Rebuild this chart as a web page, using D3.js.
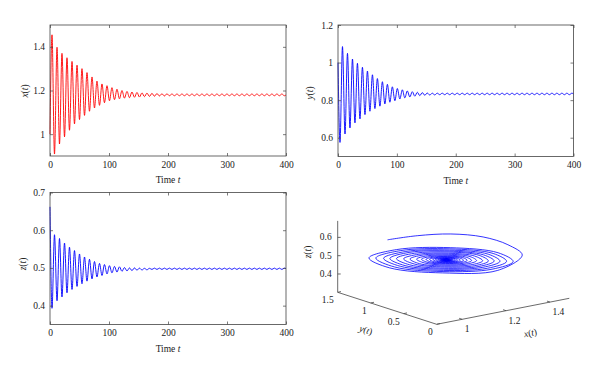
<!DOCTYPE html>
<html lang="en">
<head>
  <meta charset="UTF-8">
  <title>Damped oscillations and phase portrait</title>
  <script src="https://d3js.org/d3.v7.min.js"></script>
  <style>
    body { margin: 0; background: #fff; }
    svg text { font-family: 'Liberation Serif', 'Times New Roman', serif; font-size: 9.5px; fill: #222; }
  </style>
</head>
<body>
  <svg id="chart" width="600" height="373"></svg>

  <script>
    // ---- data ----
    const timeTicks = [0, 100, 200, 300, 400];

    // times of the successive extrema (shared by the three series)
    const tExt = [0,
      3.4, 7.6, 11.9, 16.1, 20.3, 24.6, 28.8, 33.0, 37.3, 41.5,
      45.8, 50.0, 54.2, 58.5, 62.7, 66.9, 71.2, 75.4, 79.6, 83.9,
      88.1, 92.3, 96.6, 100.8, 105.0, 109.3, 113.5, 117.7, 122.0, 126.2,
      130.5, 134.7, 138.9, 143.2, 147.4, 151.6, 155.9, 160.1, 164.3, 168.6,
      172.8, 177.0, 181.3, 185.5, 189.7, 194.0, 198.2, 202.4, 206.7, 210.9,
      215.2, 219.4, 223.6, 227.9, 232.1, 236.3, 240.6, 244.8, 249.0, 253.3,
      257.5, 261.7, 266.0, 270.2, 274.4, 278.7, 282.9, 287.1, 291.4, 295.6,
      299.9, 304.1, 308.3, 312.6, 316.8, 321.0, 325.3, 329.5, 333.7, 338.0,
      342.2, 346.4, 350.7, 354.9, 359.1, 363.4, 367.6, 371.8, 376.1, 380.3,
      384.6, 388.8, 393.0, 397.3,
      400];

    const xExt = [1.0,
      1.455, 0.909, 1.398, 0.955, 1.37, 0.988, 1.35, 1.018, 1.333, 1.047,
      1.316, 1.067, 1.30, 1.086, 1.282, 1.105, 1.262, 1.12, 1.243, 1.132,
      1.23, 1.144, 1.222, 1.153, 1.213, 1.158, 1.206, 1.162, 1.2, 1.165,
      1.196, 1.167, 1.193, 1.169, 1.191, 1.17, 1.189, 1.172, 1.188, 1.173,
      1.187, 1.174, 1.186, 1.175, 1.185, 1.175, 1.185, 1.176, 1.184, 1.176,
      1.184, 1.176, 1.184, 1.176, 1.184, 1.176, 1.184, 1.176, 1.184, 1.176,
      1.184, 1.176, 1.184, 1.176, 1.184, 1.176, 1.184, 1.176, 1.184, 1.176,
      1.184, 1.176, 1.184, 1.176, 1.184, 1.176, 1.184, 1.176, 1.184, 1.176,
      1.184, 1.176, 1.184, 1.176, 1.184, 1.176, 1.184, 1.176, 1.184, 1.176,
      1.184, 1.176, 1.184, 1.176,
      1.18];

    const yExt = [1.0,
      0.575, 1.085, 0.62, 1.049, 0.652, 1.019, 0.679, 0.996, 0.70, 0.975,
      0.723, 0.955, 0.741, 0.935, 0.755, 0.915, 0.768, 0.898, 0.78, 0.884,
      0.789, 0.871, 0.797, 0.862, 0.806, 0.855, 0.812, 0.849, 0.817, 0.845,
      0.821, 0.842, 0.824, 0.84, 0.826, 0.838, 0.827, 0.837, 0.828, 0.837,
      0.829, 0.837, 0.829, 0.837, 0.829, 0.837, 0.829, 0.837, 0.829, 0.837,
      0.829, 0.837, 0.829, 0.837, 0.829, 0.837, 0.829, 0.837, 0.829, 0.837,
      0.829, 0.837, 0.829, 0.837, 0.829, 0.837, 0.829, 0.837, 0.829, 0.837,
      0.829, 0.837, 0.829, 0.837, 0.829, 0.837, 0.829, 0.837, 0.829, 0.837,
      0.829, 0.837, 0.829, 0.837, 0.829, 0.837, 0.829, 0.837, 0.829, 0.837,
      0.829, 0.837, 0.829, 0.837,
      0.833];

    const zExt = [0.662,
      0.393, 0.588, 0.413, 0.578, 0.423, 0.566, 0.434, 0.555, 0.443, 0.546,
      0.451, 0.537, 0.458, 0.529, 0.465, 0.523, 0.471, 0.517, 0.476, 0.512,
      0.48, 0.509, 0.484, 0.506, 0.487, 0.504, 0.489, 0.503, 0.491, 0.501,
      0.492, 0.5, 0.493, 0.5, 0.494, 0.4995, 0.4945, 0.499, 0.495, 0.499,
      0.496, 0.4995, 0.496, 0.4995, 0.496, 0.4995, 0.496, 0.4995, 0.496, 0.4995,
      0.496, 0.4995, 0.496, 0.4995, 0.496, 0.4995, 0.496, 0.4995, 0.496, 0.4995,
      0.496, 0.4995, 0.496, 0.4995, 0.496, 0.4995, 0.496, 0.4995, 0.496, 0.4995,
      0.496, 0.4995, 0.496, 0.4995, 0.496, 0.4995, 0.496, 0.4995, 0.496, 0.4995,
      0.496, 0.4995, 0.496, 0.4995, 0.496, 0.4995, 0.496, 0.4995, 0.496, 0.4995,
      0.496, 0.4995, 0.496, 0.4995,
      0.498];

    const xTicks = [1, 1.2, 1.4];
    const yTicks = [0.6, 0.8, 1, 1.2];
    const zTicks = [0.4, 0.5, 0.6, 0.7];

    // vertices of the phase trajectory (x, y, z)
    const phaseX = [
      0.954, 1.060, 1.18, 1.300, 1.392, 1.455,
      1.376, 1.18, 0.982, 0.898, 0.988, 1.18, 1.358, 1.422,
      1.354, 1.18, 1.001, 0.923, 1.005, 1.18, 1.341, 1.398,
      1.336, 1.18, 1.020, 0.951, 1.024, 1.18, 1.324, 1.374,
      1.319, 1.18, 1.036, 0.974, 1.040, 1.18, 1.308, 1.353,
      1.304, 1.18, 1.053, 0.998, 1.057, 1.18, 1.293, 1.332,
      1.288, 1.18, 1.070, 1.024, 1.074, 1.18, 1.277, 1.311,
      1.273, 1.18, 1.086, 1.047, 1.090, 1.18, 1.261, 1.289,
      1.257, 1.18, 1.103, 1.071, 1.106, 1.18, 1.248, 1.271,
      1.244, 1.18, 1.116, 1.089, 1.118, 1.18, 1.236, 1.255,
      1.233, 1.18, 1.127, 1.105, 1.129, 1.18, 1.226, 1.242,
      1.224, 1.18, 1.136, 1.118, 1.138, 1.18, 1.217, 1.230,
      1.215, 1.18, 1.145, 1.130, 1.146, 1.18, 1.210, 1.220,
      1.208, 1.18, 1.152, 1.140, 1.153, 1.18, 1.204, 1.212,
      1.18, 1.148, 1.18, 1.205,
      1.18, 1.155, 1.18, 1.200,
      1.18, 1.160, 1.18, 1.195,
      1.18, 1.165, 1.18, 1.191,
      1.18, 1.169, 1.18, 1.188,
      1.18, 1.172, 1.18, 1.185
    ];
    const phaseY = [
      0.978, 0.880, 0.770, 0.680, 0.611, 0.603,
      0.711, 0.894, 1.044, 1.073, 0.957, 0.780, 0.647, 0.631,
      0.725, 0.888, 1.024, 1.052, 0.946, 0.785, 0.665, 0.651,
      0.736, 0.882, 1.004, 1.028, 0.934, 0.790, 0.684, 0.671,
      0.747, 0.877, 0.986, 1.009, 0.924, 0.795, 0.700, 0.689,
      0.757, 0.872, 0.969, 0.989, 0.913, 0.800, 0.716, 0.707,
      0.766, 0.867, 0.951, 0.967, 0.902, 0.805, 0.733, 0.724,
      0.776, 0.863, 0.934, 0.947, 0.892, 0.809, 0.749, 0.743,
      0.786, 0.858, 0.916, 0.927, 0.882, 0.814, 0.764, 0.758,
      0.794, 0.854, 0.903, 0.912, 0.874, 0.817, 0.776, 0.772,
      0.801, 0.851, 0.891, 0.898, 0.867, 0.821, 0.787, 0.783,
      0.807, 0.848, 0.881, 0.887, 0.861, 0.823, 0.795, 0.793,
      0.813, 0.846, 0.872, 0.877, 0.856, 0.826, 0.803, 0.801,
      0.817, 0.843, 0.865, 0.869, 0.852, 0.827, 0.810, 0.808,
      0.842, 0.862, 0.829, 0.814,
      0.840, 0.856, 0.830, 0.818,
      0.839, 0.852, 0.831, 0.822,
      0.838, 0.848, 0.832, 0.826,
      0.837, 0.844, 0.833, 0.828,
      0.837, 0.842, 0.834, 0.831
    ];
    const phaseZ = [
      0.631, 0.640, 0.634, 0.600, 0.544, 0.474,
      0.396, 0.407, 0.464, 0.534, 0.572, 0.558, 0.504, 0.443,
      0.406, 0.415, 0.466, 0.530, 0.564, 0.551, 0.502, 0.447,
      0.414, 0.422, 0.468, 0.525, 0.556, 0.544, 0.500, 0.451,
      0.422, 0.429, 0.470, 0.521, 0.549, 0.538, 0.498, 0.455,
      0.429, 0.435, 0.472, 0.517, 0.541, 0.532, 0.497, 0.458,
      0.436, 0.442, 0.474, 0.512, 0.533, 0.525, 0.495, 0.462,
      0.443, 0.448, 0.475, 0.508, 0.526, 0.519, 0.494, 0.466,
      0.450, 0.454, 0.477, 0.504, 0.519, 0.513, 0.492, 0.469,
      0.456, 0.460, 0.478, 0.501, 0.513, 0.508, 0.491, 0.472,
      0.461, 0.464, 0.479, 0.498, 0.508, 0.504, 0.490, 0.474,
      0.465, 0.468, 0.480, 0.496, 0.504, 0.501, 0.489, 0.476,
      0.469, 0.471, 0.481, 0.494, 0.500, 0.498, 0.488, 0.478,
      0.472, 0.474, 0.482, 0.492, 0.497, 0.495, 0.488, 0.479,
      0.476, 0.491, 0.493, 0.481,
      0.478, 0.489, 0.491, 0.482,
      0.479, 0.489, 0.490, 0.482,
      0.481, 0.488, 0.489, 0.483,
      0.482, 0.487, 0.488, 0.484,
      0.483, 0.486, 0.487, 0.484
    ];
    const phaseXTicks = [1, 1.2, 1.4];
    const phaseYTicks = [0, 0.5, 1, 1.5];
    const phaseZTicks = [0.4, 0.5, 0.6];

    // ---- drawing ----
    const svg = d3.select("#chart");
    const frameColor = "#444";
    const fmt = d => String(d);

    const panels = [
      { name: "x", color: "#ff0000", values: xExt, domain: [0.9, 1.5], ticks: xTicks,
        left: 50, top: 25, w: 236, h: 131, labX: 28, labY: 91 },
      { name: "y", color: "#0000ff", values: yExt, domain: [0.5, 1.2], ticks: yTicks,
        left: 338, top: 25, w: 235.5, h: 131.5, labX: 313, labY: 93 },
      { name: "z", color: "#0000ff", values: zExt, domain: [0.35, 0.7], ticks: zTicks,
        left: 50, top: 192.5, w: 236, h: 132, labX: 26, labY: 264 }
    ];

    function styleAxis(a) {
      a.attr("font-family", null).attr("font-size", null);
      a.select(".domain").remove();
      a.selectAll("line").attr("stroke", frameColor).attr("stroke-width", 0.7);
    }

    function italicLabel(sel, letter) {
      sel.append("tspan").attr("font-style", "italic").text(letter);
      sel.append("tspan").text("(");
      sel.append("tspan").attr("font-style", "italic").text("t");
      sel.append("tspan").text(")");
    }

    panels.forEach(p => {
      const g = svg.append("g").attr("transform", `translate(${p.left},${p.top})`);
      const x = d3.scaleLinear().domain([0, 400]).range([0, p.w]);
      const y = d3.scaleLinear().domain(p.domain).range([p.h, 0]);

      const line = d3.line()
        .x(d => x(d[0]))
        .y(d => y(d[1]))
        .curve(d3.curveMonotoneX);

      g.append("path")
        .datum(tExt.map((t, i) => [t, p.values[i]]))
        .attr("fill", "none")
        .attr("stroke", p.color)
        .attr("stroke-width", 0.9)
        .attr("d", line);

      g.append("g").attr("transform", `translate(0,${p.h})`)
        .call(d3.axisBottom(x).tickValues(timeTicks).tickFormat(fmt).tickSizeInner(-3).tickSizeOuter(0).tickPadding(5))
        .call(styleAxis);
      g.append("g")
        .call(d3.axisTop(x).tickValues(timeTicks).tickSizeInner(-3).tickSizeOuter(0).tickFormat(""))
        .call(styleAxis);
      g.append("g")
        .call(d3.axisLeft(y).tickValues(p.ticks).tickFormat(fmt).tickSizeInner(-3).tickSizeOuter(0).tickPadding(5))
        .call(styleAxis);
      g.append("g").attr("transform", `translate(${p.w},0)`)
        .call(d3.axisRight(y).tickValues(p.ticks).tickSizeInner(-3).tickSizeOuter(0).tickFormat(""))
        .call(styleAxis);

      g.append("rect")
        .attr("width", p.w).attr("height", p.h)
        .attr("fill", "none").attr("stroke", frameColor).attr("stroke-width", 0.8);

      const tl = g.append("text")
        .attr("x", p.w / 2).attr("y", p.h + 27)
        .attr("text-anchor", "middle");
      tl.append("tspan").text("Time ");
      tl.append("tspan").attr("font-style", "italic").text("t");

      const yl = svg.append("text")
        .attr("transform", `translate(${p.labX},${p.labY}) rotate(-90)`)
        .attr("text-anchor", "middle");
      italicLabel(yl, p.name);
    });

    // ---- 3-D phase portrait ----
    const corner = { x: 436.7, y: 324.3 };
    const xDom3 = [0.884, 1.488], yDom3 = [0, 1.5], zDom3 = [0.3, 0.69];
    const pxh = d3.scaleLinear().domain(xDom3).range([0, 132.6]);
    const pxv = d3.scaleLinear().domain(xDom3).range([0, -26]);
    const pyh = d3.scaleLinear().domain(yDom3).range([0, -99]);
    const pyv = d3.scaleLinear().domain(yDom3).range([0, -32]);
    const pz = d3.scaleLinear().domain(zDom3).range([0, -71.4]);
    const proj = (x, y, z) => [corner.x + pxh(x) + pyh(y), corner.y + pxv(x) + pyv(y) + pz(z)];

    const g3 = svg.append("g");
    const axisLine = (a, b) => g3.append("line")
      .attr("x1", a[0]).attr("y1", a[1]).attr("x2", b[0]).attr("y2", b[1])
      .attr("stroke", frameColor).attr("stroke-width", 0.8);

    const x0 = xDom3[0], z0 = zDom3[0];
    axisLine(proj(x0, yDom3[1], z0), proj(x0, yDom3[1], zDom3[1]));
    axisLine(proj(x0, yDom3[1], z0), proj(x0, 0, z0));
    axisLine(proj(x0, 0, z0), proj(xDom3[1], 0, z0));

    phaseZTicks.forEach(v => {
      const p = proj(x0, yDom3[1], v);
      axisLine(p, [p[0] + 3, p[1]]);
      g3.append("text").attr("x", p[0] - 6).attr("y", p[1]).attr("dy", "0.32em")
        .attr("text-anchor", "end").text(fmt(v));
    });
    phaseYTicks.forEach(v => {
      const p = proj(x0, v, z0);
      axisLine(p, [p[0] + 3.3, p[1] - 0.7]);
      g3.append("text").attr("x", p[0] - 4).attr("y", p[1] + 8).attr("dy", "0.32em")
        .attr("text-anchor", "end").text(fmt(v));
    });
    phaseXTicks.forEach(v => {
      const p = proj(v, 0, z0);
      axisLine(p, [p[0] - 3, p[1] - 1]);
      g3.append("text").attr("x", p[0] + 2.5).attr("y", p[1] + 10).attr("dy", "0.32em")
        .attr("text-anchor", "start").text(fmt(v));
    });

    const zl = g3.append("text")
      .attr("transform", "translate(311,252) rotate(-90)")
      .attr("text-anchor", "middle");
    italicLabel(zl, "z");
    const ylab = g3.append("text")
      .attr("transform", "translate(365,333) rotate(18)")
      .attr("text-anchor", "middle");
    italicLabel(ylab, "y");
    const xlab = g3.append("text")
      .attr("transform", "translate(531,336) rotate(-11)")
      .attr("text-anchor", "middle");
    italicLabel(xlab, "x");

    g3.append("path")
      .datum(phaseX.map((v, i) => proj(v, phaseY[i], phaseZ[i])))
      .attr("fill", "none")
      .attr("stroke", "#0000ff")
      .attr("stroke-width", 0.8)
      .attr("d", d3.line().curve(d3.curveCatmullRom.alpha(0.5)));
  </script>
</body>
</html>
